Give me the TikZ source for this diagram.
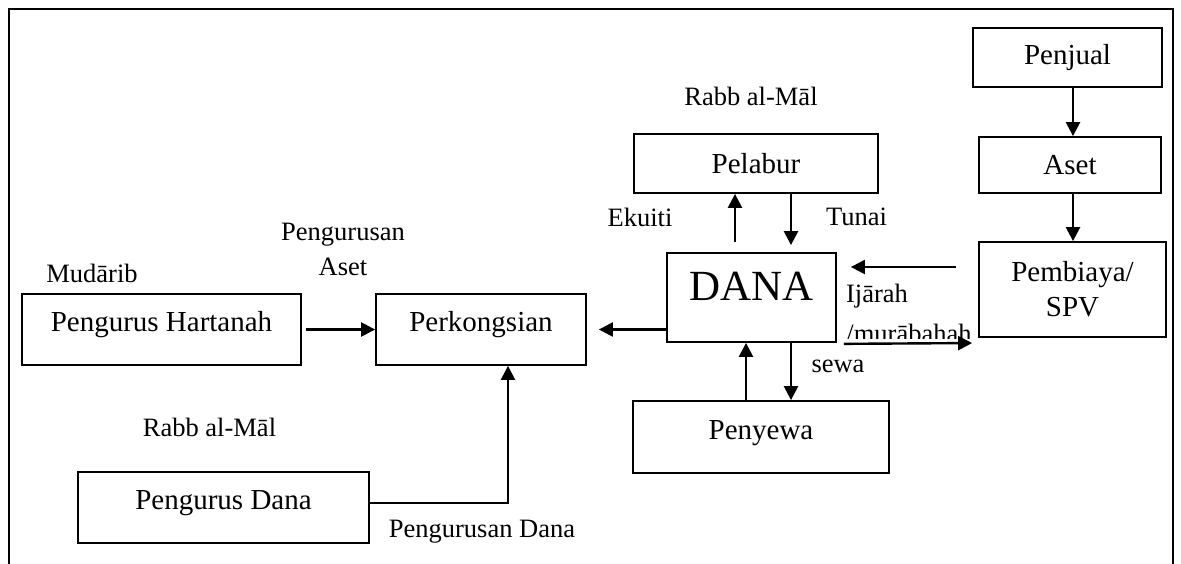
\documentclass[tikz,border=0pt]{standalone}
\usepackage{fontspec}
\setmainfont{Liberation Serif}
\usetikzlibrary{arrows.meta}
\begin{document}
\begin{tikzpicture}[x=1pt,y=-1pt,
  boxbase/.style={draw, line width=1.8pt, inner sep=0pt, font=\fontsize{29}{35}\selectfont},
  rbox/.style={boxbase, text height=14pt, text depth=10pt},
  lbl/.style={font=\fontsize{26.5}{35}\selectfont, inner sep=0pt, anchor=base},
  arr/.style={line width=2.4pt, -{Triangle[length=14pt,width=14pt]}},
  frame/.style={line width=1.8pt}]
\useasboundingbox (0,0) rectangle (1181,564);
% outer frame (open at the bottom)
\draw[frame] (9,564) -- (9,9) -- (1173,9) -- (1173,564);
% boxes
\node[boxbase, minimum width=189, minimum height=59] (penjual) at (1067.5,57.5) {Penjual};
\node[boxbase, minimum width=182, minimum height=56] (aset) at (1070,165) {Aset};
\node[boxbase, minimum width=187, minimum height=95, align=center] (pemb) at (1072.5,289.5) {Pembiaya/\\SPV};
\node[boxbase, minimum width=244, minimum height=59] (pelabur) at (756,163.5) {Pelabur};
\node[boxbase, minimum width=169, minimum height=89, text height=15pt, text depth=10pt, font=\fontsize{43}{50}\selectfont] (dana) at (751.5,297.5) {DANA};
\node[rbox, minimum width=279, minimum height=71] (hart) at (161.5,329.5) {Pengurus Hartanah};
\node[rbox, minimum width=210, minimum height=71] (perk) at (481,329.5) {Perkongsian};
\node[rbox, minimum width=291, minimum height=71] (pdana) at (223.5,507.5) {Pengurus Dana};
\node[rbox, minimum width=256, minimum height=72] (penyewa) at (761,437) {Penyewa};
% labels
\node[lbl] (lrabb1) at (751,106) {Rabb al-Māl};
\node[lbl] (lekuiti) at (640,227) {Ekuiti};
\node[lbl] (ltunai) at (856.5,226) {Tunai};
\node[lbl] (lmud) at (92,283) {Mudārib};
\node[lbl] (lpeng) at (343,241) {Pengurusan};
\node[lbl] (laset) at (343,276) {Aset};
\node[lbl] (lrabb2) at (209.5,436) {Rabb al-Māl};
\node[lbl] (lpdana) at (482,537) {Pengurusan Dana};
\node[lbl] (lsewa) at (838,372) {sewa};
\node[lbl] (lijarah) at (877,302) {Ijārah};
\begin{scope}
\clip (835,300) rectangle (985,338);
\node[lbl] (lmurab) at (909,342) {/murābahah};
\end{scope}
% connectors
\draw[arr] ([xshift=5.5]penjual.south) -- ([xshift=3]aset.north);
\draw[arr] ([xshift=3]aset.south) -- ([xshift=0.5]pemb.north);
\draw[arr, shorten <=10pt] ([xshift=-16.5]dana.north) -- ([xshift=-21]pelabur.south);
\draw[arr, shorten >=7pt] ([xshift=35]pelabur.south) -- ([xshift=39.5]dana.north);
\draw[arr, shorten <=22pt, shorten >=14pt] ([yshift=22.5]pemb.west) -- ([yshift=30.5]dana.east);
\draw[arr, shorten <=7pt, shorten >=6pt] ([yshift=-1]dana.south east) -- ([yshift=-53.5]pemb.west);
\draw[arr, shorten >=12pt] (dana.west |- perk.east) -- (perk.east);
\draw[arr, shorten <=4pt] (hart.east) -- (perk.west);
\draw[arr] ([yshift=4.5]pdana.east) -| ([xshift=27]perk.south);
\draw[arr] ([xshift=-15]penyewa.north) -- ([xshift=-5.5]dana.south);
\draw[arr] ([xshift=39.5]dana.south) -- ([xshift=30]penyewa.north);
\end{tikzpicture}
\end{document}
